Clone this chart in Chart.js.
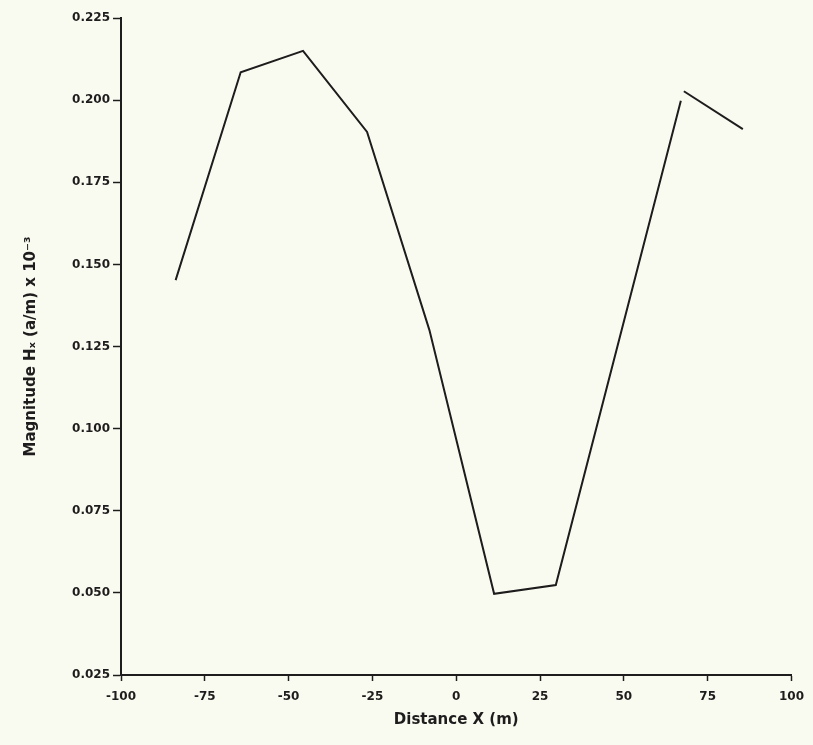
<!DOCTYPE html>
<html>
<head>
<meta charset="utf-8">
<script src="https://cdn.jsdelivr.net/npm/chart.js@4"></script>
<style>
  html, body { margin: 0; padding: 0; background: #fafbf0; }
  #wrap { width: 813px; height: 745px; }
</style>
</head>
<body>
<div id="wrap"><canvas id="chart"></canvas></div>
<script>
// values
const xMain = [-83.7, -64.3, -45.7, -26.6, -8.0, 11.3, 29.7, 67.0];
const yMain = [0.1452, 0.2085, 0.2150, 0.1903, 0.1300, 0.0497, 0.0524, 0.1998];
const xTail = [67.9, 85.5];
const yTail = [0.2027, 0.1912];
const xTicks = [-100, -75, -50, -25, 0, 25, 50, 75, 100];
const yTicks = [0.025, 0.050, 0.075, 0.100, 0.125, 0.150, 0.175, 0.200, 0.225];

const toPoints = (xs, ys) => xs.map((x, i) => ({ x: x, y: ys[i] }));
const ink = "#1e1c1c";
const tickFont = { family: "DejaVu Sans", size: 12, weight: "bold" };
const titleFont = { family: "DejaVu Sans", size: 15, weight: "bold" };

const ctx = document.getElementById("chart").getContext("2d");
new Chart(ctx, {
    type: "line",
    data: {
        datasets: [
            { data: toPoints(xMain, yMain), borderColor: ink, borderWidth: 2, pointRadius: 0, tension: 0 },
            { data: toPoints(xTail, yTail), borderColor: ink, borderWidth: 2, pointRadius: 0, tension: 0 }
        ]
    },
    options: {
        responsive: true,
        maintainAspectRatio: false,
        animation: false,
        layout: { padding: { top: 18, right: 18, left: 18, bottom: 12 } },
        plugins: { legend: { display: false }, tooltip: { enabled: false } },
        scales: {
            x: {
                type: "linear",
                min: -100,
                max: 100,
                afterBuildTicks: (scale) => { scale.ticks = xTicks.map(v => ({ value: v })); },
                afterFit: (scale) => { scale.height = 58; },
                grid: { drawOnChartArea: false, drawTicks: true, tickLength: 6, tickColor: ink, tickWidth: 1.5 },
                border: { display: true, color: ink, width: 2 },
                ticks: { color: ink, font: tickFont, padding: 9, maxRotation: 0 },
                title: { display: true, text: "Distance X (m)", color: ink, font: titleFont, padding: { top: 2 } }
            },
            y: {
                type: "linear",
                min: 0.025,
                max: 0.225,
                afterBuildTicks: (scale) => { scale.ticks = yTicks.map(v => ({ value: v })); },
                afterFit: (scale) => { scale.width = 103; },
                grid: { drawOnChartArea: false, drawTicks: true, tickLength: 8, tickColor: ink, tickWidth: 1.5 },
                border: { display: true, color: ink, width: 2 },
                ticks: { color: ink, font: tickFont, padding: 3, callback: (v) => v.toFixed(3) },
                title: { display: true, text: "Magnitude Hₓ (a/m) x 10⁻³", color: ink, font: titleFont, padding: { bottom: 6 } }
            }
        }
    }
});
</script>
</body>
</html>
